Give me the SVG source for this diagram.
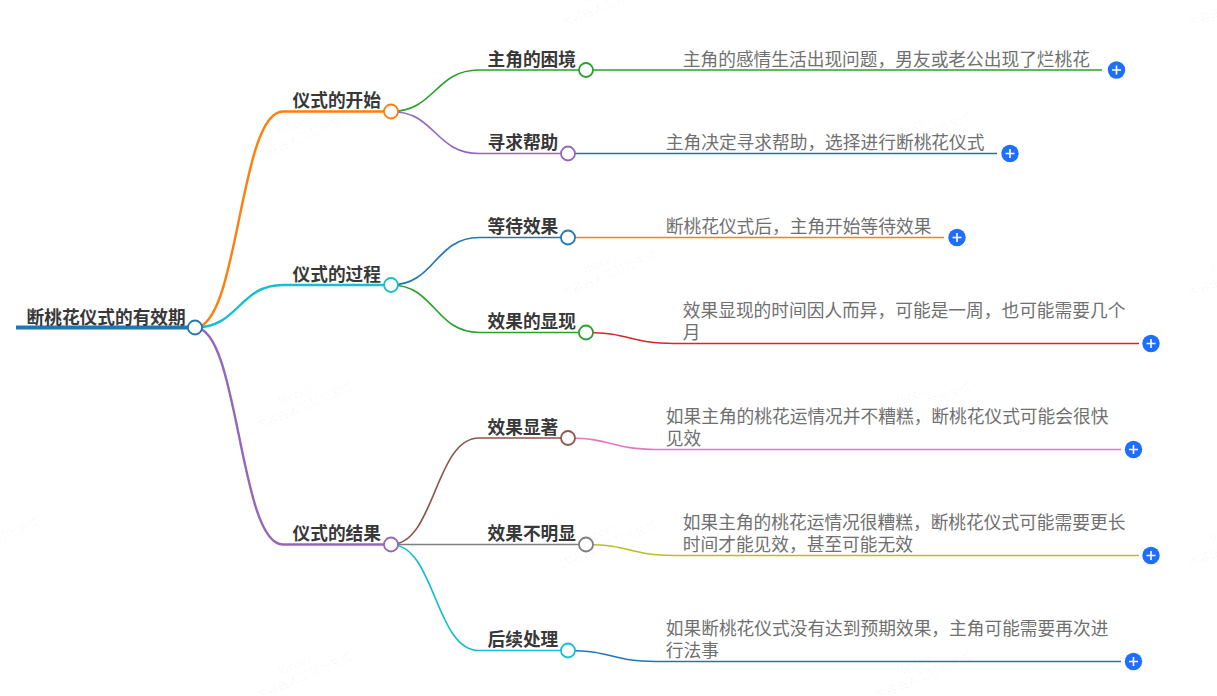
<svg xmlns="http://www.w3.org/2000/svg" width="1217" height="696" viewBox="0 0 1217 696">
<defs>
<g id="wm"><text class="wm1" x="30" y="-14">f6cee9</text><text class="wm2" x="0" y="0">内容由人工智能生成</text></g>
<g id="plus"><circle r="8.7" fill="#1f6fff"/><path d="M-4.5 0H4.5M0 -4.5V4.5" stroke="#fff" stroke-width="1.6" fill="none"/></g>
</defs>
<style>
text{font-family:"Noto Sans CJK SC","Noto Sans",sans-serif}
.wm1,.wm2{font-size:11.5px;fill:#000;fill-opacity:.04}
.t{font-size:17.7px;font-weight:700;fill:#383838}
.l{font-size:17.72px;fill:#707070}
.c{fill:none;stroke-linecap:butt}
.w1{stroke-width:2.4}.w2{stroke-width:1.7}
.d{fill:#fff;stroke-width:1.8}
</style>
<rect width="1217" height="696" fill="#fff"/>
<g id="watermarks">
<use href="#wm" transform="translate(-55 565) rotate(-23)"/>
<use href="#wm" transform="translate(258 160) rotate(-23)"/>
<use href="#wm" transform="translate(258 430) rotate(-23)"/>
<use href="#wm" transform="translate(258 700) rotate(-23)"/>
<use href="#wm" transform="translate(563 28) rotate(-23)"/>
<use href="#wm" transform="translate(563 298) rotate(-23)"/>
<use href="#wm" transform="translate(563 568) rotate(-23)"/>
<use href="#wm" transform="translate(877 160) rotate(-23)"/>
<use href="#wm" transform="translate(877 430) rotate(-23)"/>
<use href="#wm" transform="translate(877 700) rotate(-23)"/>
<use href="#wm" transform="translate(1190 28) rotate(-23)"/>
<use href="#wm" transform="translate(1190 298) rotate(-23)"/>
<use href="#wm" transform="translate(1190 568) rotate(-23)"/>
</g>
<g id="connectors">
<path class="c" d="M16 327.5H190" stroke="#1f77b4" stroke-width="4"/>
<path class="c w1" stroke="#ff7f0e" d="M195 327.5C239 327.5 239 111.5 283 111.5H385"/>
<path class="c w1" stroke="#17becf" d="M195 327.5C239 327.5 239 285 283 285H385"/>
<path class="c w1" stroke="#9467bd" d="M195 327.5C239 327.5 239 544.5 283 544.5H385"/>
<path class="c w2" stroke="#2ca02c" d="M391 111.5C435 111.5 435 70 479 70H580"/>
<path class="c w2" stroke="#9467bd" d="M391 111.5C435 111.5 435 153.5 479 153.5H562"/>
<path class="c w2" stroke="#1f77b4" d="M391 285C435 285 435 237.5 479 237.5H562"/>
<path class="c w2" stroke="#2ca02c" d="M391 285C435 285 435 332.5 479 332.5H580"/>
<path class="c w2" stroke="#8c564b" d="M391 544.5C435 544.5 435 438 479 438H562"/>
<path class="c w2" stroke="#7f7f7f" d="M391 544.5H580"/>
<path class="c w2" stroke="#17becf" d="M391 544.5C435 544.5 435 650.5 479 650.5H562"/>
<path class="c w2" stroke="#2ca02c" d="M586 70H1102"/>
<path class="c w2" stroke="#1f77b4" d="M568 153.5H997"/>
<path class="c w2" stroke="#ff7f0e" d="M568 237.5H944"/>
<path class="c w2" stroke="#d62728" d="M586 332.5C630 332.5 630 343.5 674 343.5H1139"/>
<path class="c w2" stroke="#e377c2" d="M568 438C612 438 612 449.5 656 449.5H1121"/>
<path class="c w2" stroke="#bcbd22" d="M586 544.5C630 544.5 630 555.5 674 555.5H1139"/>
<path class="c w2" stroke="#1f77b4" d="M568 650.5C612 650.5 612 661.5 656 661.5H1121"/>
</g>
<g id="root"><text class="t" x="26.5" y="324">断桃花仪式的有效期</text><circle class="d" cx="195" cy="327.5" r="7" stroke="#1f77b4"/></g>
<g id="n1"><text class="t" x="292.5" y="107">仪式的开始</text><circle class="d" cx="391" cy="111.5" r="7" stroke="#ff7f0e"/></g>
<g id="n2"><text class="t" x="292.5" y="281">仪式的过程</text><circle class="d" cx="391" cy="285" r="7" stroke="#17becf"/></g>
<g id="n3"><text class="t" x="292.5" y="540">仪式的结果</text><circle class="d" cx="391" cy="544.5" r="7" stroke="#9467bd"/></g>
<g id="n11"><text class="t" x="487.5" y="65.5">主角的困境</text><circle class="d" cx="586" cy="70" r="7" stroke="#2ca02c"/></g>
<g id="n12"><text class="t" x="487.5" y="149">寻求帮助</text><circle class="d" cx="568" cy="153.5" r="7" stroke="#9467bd"/></g>
<g id="n21"><text class="t" x="487.5" y="233">等待效果</text><circle class="d" cx="568" cy="237.5" r="7" stroke="#1f77b4"/></g>
<g id="n22"><text class="t" x="487.5" y="328">效果的显现</text><circle class="d" cx="586" cy="332.5" r="7" stroke="#2ca02c"/></g>
<g id="n31"><text class="t" x="487.5" y="433.5">效果显著</text><circle class="d" cx="568" cy="438" r="7" stroke="#8c564b"/></g>
<g id="n32"><text class="t" x="487.5" y="540">效果不明显</text><circle class="d" cx="586" cy="544.5" r="7" stroke="#7f7f7f"/></g>
<g id="n33"><text class="t" x="487.5" y="646">后续处理</text><circle class="d" cx="568" cy="650.5" r="7" stroke="#17becf"/></g>
<g id="l11"><text class="l" x="682.8" y="65.5">主角的感情生活出现问题，男友或老公出现了烂桃花</text><use href="#plus" x="1116.5" y="70"/></g>
<g id="l12"><text class="l" x="665.8" y="149">主角决定寻求帮助，选择进行断桃花仪式</text><use href="#plus" x="1010" y="153.5"/></g>
<g id="l21"><text class="l" x="665.8" y="233">断桃花仪式后，主角开始等待效果</text><use href="#plus" x="957" y="237.5"/></g>
<g id="l22"><text class="l" x="682.8" y="317">效果显现的时间因人而异，可能是一周，也可能需要几个<tspan x="682.8" dy="22">月</tspan></text><use href="#plus" x="1151" y="343.5"/></g>
<g id="l31"><text class="l" x="665.8" y="423">如果主角的桃花运情况并不糟糕，断桃花仪式可能会很快<tspan x="665.8" dy="22">见效</tspan></text><use href="#plus" x="1133.5" y="449.5"/></g>
<g id="l32"><text class="l" x="682.8" y="529">如果主角的桃花运情况很糟糕，断桃花仪式可能需要更长<tspan x="682.8" dy="22">时间才能见效，甚至可能无效</tspan></text><use href="#plus" x="1151" y="555.5"/></g>
<g id="l33"><text class="l" x="665.8" y="635">如果断桃花仪式没有达到预期效果，主角可能需要再次进<tspan x="665.8" dy="22">行法事</tspan></text><use href="#plus" x="1133.5" y="661.5"/></g>
</svg>
